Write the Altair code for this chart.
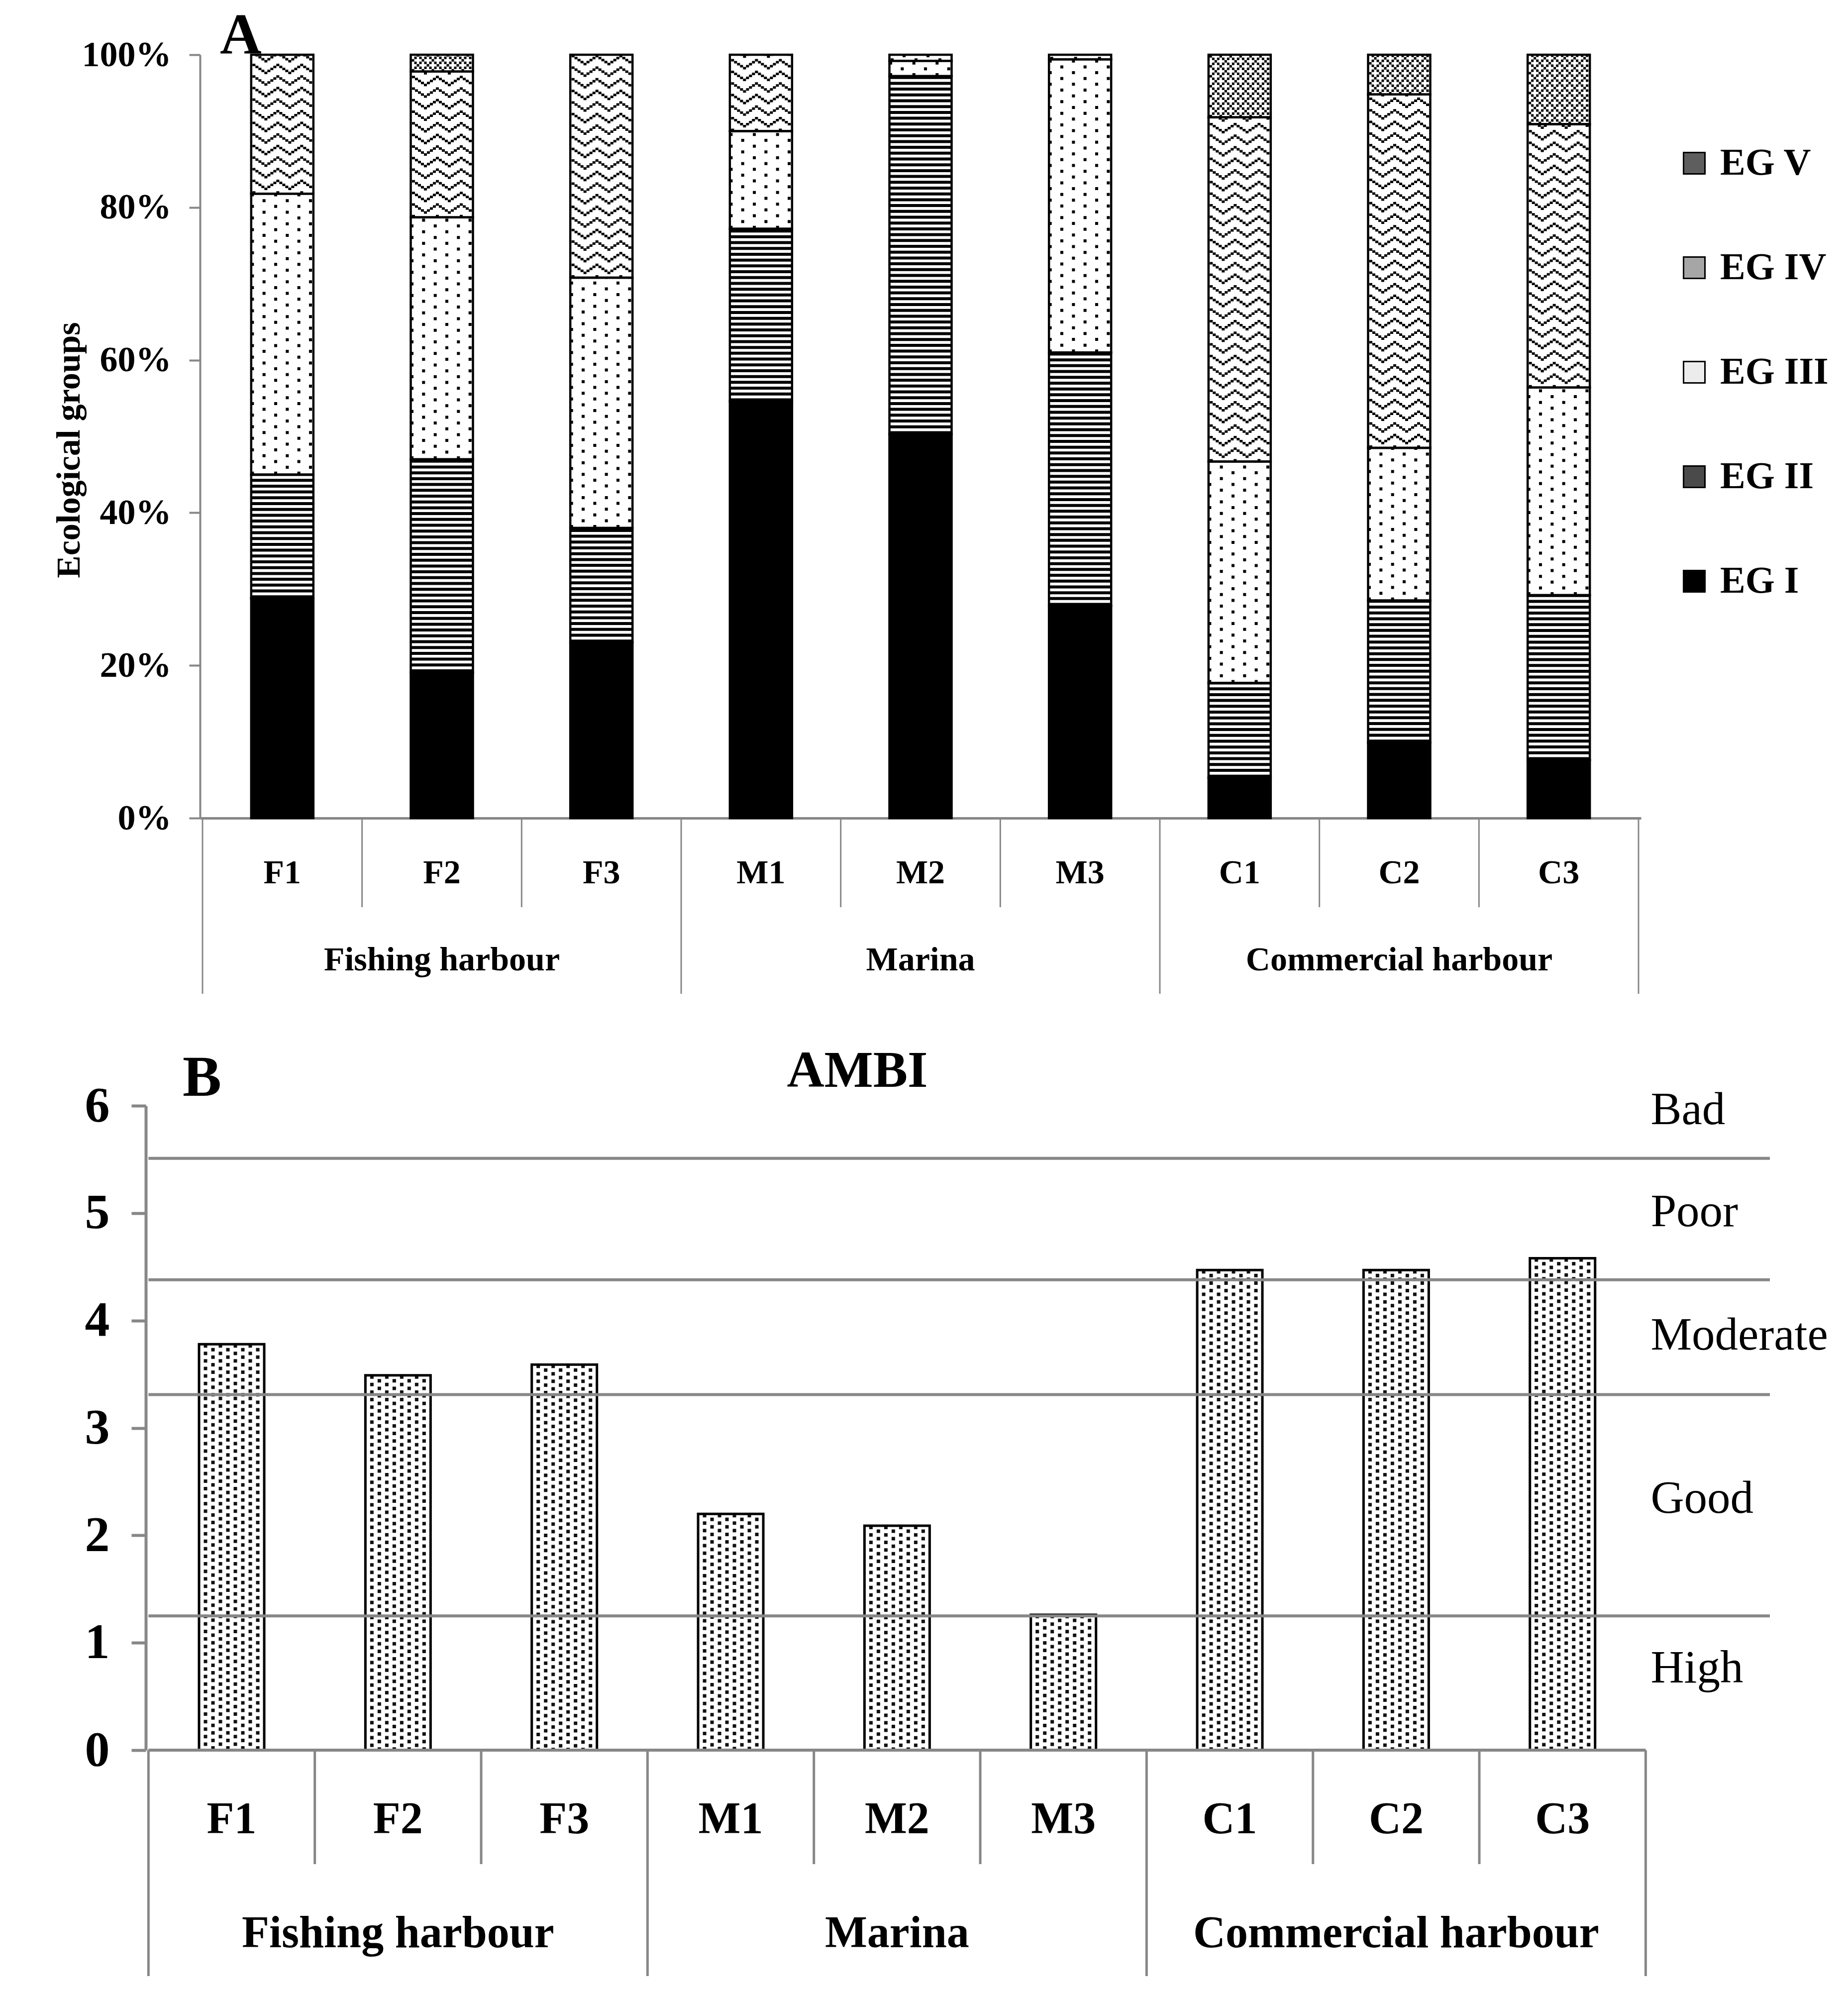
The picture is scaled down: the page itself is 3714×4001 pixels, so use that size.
import altair as alt
import pandas as pd

# ---------------- data ----------------
sites = ["F1", "F2", "F3", "M1", "M2", "M3", "C1", "C2", "C3"]
groups = ["Fishing harbour", "Marina", "Commercial harbour"]
sites_per_group = [3, 3, 3]
eg_labels = ["EG I", "EG II", "EG III", "EG IV", "EG V"]
eg_i = [28.8, 19.1, 23.0, 54.6, 50.3, 27.8, 5.3, 9.9, 7.6]
eg_ii = [16.2, 27.9, 15.0, 22.6, 46.9, 33.2, 12.4, 18.6, 21.6]
eg_iii = [36.8, 31.7, 32.8, 12.8, 2.0, 38.4, 29.0, 20.0, 27.2]
eg_iv = [18.2, 19.1, 29.2, 10.0, 0.8, 0.6, 45.1, 46.3, 34.5]
eg_v = [0.0, 2.2, 0.0, 0.0, 0.0, 0.0, 8.2, 5.2, 9.1]
ambi = [3.78, 3.49, 3.59, 2.20, 2.09, 1.26, 4.47, 4.47, 4.58]
ambi_limits = [1.25, 3.31, 4.38, 5.51]
status = ["High", "Good", "Moderate", "Poor", "Bad"]
status_y = [0.63, 2.21, 3.73, 4.88, 5.83]

# ---------------- style / layout ----------------
FONT = "Liberation Serif"
GRAY = "#878787"
N = len(sites)
WA, HA = 2896, 1534
WB, HB = 3160, 1295
B_SHIFT = 109                      # panel B category axis starts left of panel A's
B_UNIT = 335.4                     # px per site in panel B
XB_MIN = B_SHIFT / B_UNIT
XB_MAX = XB_MIN + WB / B_UNIT
BW_A = 125
BW_B = 131

# ---------------- tables ----------------
rows = []
for i, s in enumerate(sites):
    base = 0.0
    for eg, vals in zip(eg_labels, [eg_i, eg_ii, eg_iii, eg_iv, eg_v]):
        v = vals[i]
        rows.append(dict(site=s, pos=i + 0.5, eg=eg, value=v, y0=base, y1=base + v))
        base += v
dfa = pd.DataFrame(rows)
dfa = dfa[dfa.value > 0].reset_index(drop=True)

bounds = [0]
for n in sites_per_group:
    bounds.append(bounds[-1] + n)
site_div = pd.DataFrame({"pos": [float(p) for p in range(N + 1) if p not in bounds]})
group_div = pd.DataFrame({"pos": [float(p) for p in bounds]})
site_lab = pd.DataFrame({"pos": [i + 0.5 for i in range(N)], "t": sites})
group_lab = pd.DataFrame({"pos": [(bounds[k] + bounds[k + 1]) / 2 for k in range(len(groups))],
                          "t": groups})

dfb = pd.DataFrame({"site": sites, "pos": [i + 0.5 for i in range(N)], "v": ambi, "z": [0.0] * N})
dflim = pd.DataFrame({"v": ambi_limits, "pos": [0.0] * len(ambi_limits),
                      "pos2": [XB_MAX] * len(ambi_limits)})
dfstat = pd.DataFrame({"v": status_y, "t": status, "pos": [float(N)] * len(status)})
dfbase = pd.DataFrame({"v": [0.0], "pos": [0.0], "pos2": [float(N)]})

# ---------------- panel A ----------------
xA = alt.X("pos:Q", scale=alt.Scale(domain=[0, N], nice=False, zero=False),
           axis=alt.Axis(labels=False, ticks=False, title=None, domainColor=GRAY,
                         domainWidth=5, grid=False))
yA_axis = alt.Axis(values=[0, 20, 40, 60, 80, 100], labelExpr="datum.value + '%'",
                   grid=False, domainColor=GRAY, domainWidth=4, tickColor=GRAY,
                   tickWidth=4, tickSize=22, labelFont=FONT, labelFontSize=72,
                   labelFontWeight="bold", labelColor="black", labelPadding=36,
                   labelLimit=500,
                   title="Ecological groups", titleFont=FONT, titleFontSize=68,
                   titleFontWeight="bold", titleColor="black", titleAngle=270,
                   titleBaseline="bottom", titleX=-229, titleY=794)
yA = alt.Y("y0:Q", scale=alt.Scale(domain=[0, 100], nice=False), axis=yA_axis)


def seg(eg):
    return alt.Chart(dfa[dfa.eg == eg].reset_index(drop=True))


layersA = []
layersA.append(alt.Chart(dfa).mark_bar(width=BW_A, strokeWidth=0).encode(
    x=xA, y=yA, y2="y1:Q",
    fill=alt.condition(alt.datum.eg == "EG I", alt.value("black"), alt.value("white"))))
# EG II: horizontal stripes
layersA.append(seg("EG II").mark_rule(strokeWidth=BW_A - 2, strokeDash=[6, 5.7],
                                      color="black").encode(x=xA, y=yA, y2="y1:Q"))
# EG III: sparse staggered dots
for k, off in enumerate([-60, -36.7, -13.3, 10, 33.3, 56.7]):
    layersA.append(seg("EG III").mark_rule(strokeWidth=6, strokeDash=[6, 17.3],
                                           strokeDashOffset=11.7 * (k % 2), xOffset=off,
                                           color="black").encode(x=xA, y=yA, y2="y1:Q"))
# EG IV: zigzag waves
zz = [0, 4, 8, 12, 16, 12, 8, 4]
for k, off in enumerate(range(-57, 58, 6)):
    layersA.append(seg("EG IV").mark_rule(strokeWidth=6, strokeDash=[5, 18.3],
                                          strokeDashOffset=zz[k % 8], xOffset=off,
                                          color="black").encode(x=xA, y=yA, y2="y1:Q"))
# EG V: lattice
for k, off in enumerate(range(-58, 59, 5)):
    p = k % 4
    if p == 0:
        dash, doff = [5, 15], 0
    elif p == 2:
        dash, doff = [5, 15], 10
    else:
        dash, doff = [5, 5], 5
    layersA.append(seg("EG V").mark_rule(strokeWidth=5, strokeDash=dash, strokeDashOffset=doff,
                                         xOffset=off, color="black").encode(x=xA, y=yA, y2="y1:Q"))
# outlines
layersA.append(alt.Chart(dfa).mark_bar(width=BW_A, fillOpacity=0, stroke="black",
                                       strokeWidth=4.5).encode(x=xA, y=yA, y2="y1:Q"))
# legend (dummy layer)
layersA.append(alt.Chart(dfa).mark_square(opacity=0).encode(
    x=xA, y=yA,
    fill=alt.Fill("eg:N",
                  scale=alt.Scale(domain=eg_labels[::-1],
                                  range=["#5e5e5e", "#a6a6a6", "#ececec", "#4a4a4a", "#000000"]),
                  legend=alt.Legend(orient="none", legendX=2965, legendY=180, title=None,
                                    symbolType="square", symbolSize=1849, symbolStrokeColor="black",
                                    symbolStrokeWidth=3, symbolOpacity=1, labelFont=FONT,
                                    labelFontSize=76, labelFontWeight="bold", labelColor="black",
                                    rowPadding=134, labelOffset=14, labelLimit=600, padding=0))))
# category table
layersA.append(alt.Chart(site_div).mark_rule(color=GRAY, strokeWidth=3).encode(
    x=xA, y=alt.value(HA), y2=alt.value(HA + 179)))
layersA.append(alt.Chart(group_div).mark_rule(color=GRAY, strokeWidth=3).encode(
    x=xA, y=alt.value(HA), y2=alt.value(HA + 353)))
layersA.append(alt.Chart(site_lab).mark_text(font=FONT, fontSize=68, fontWeight="bold",
                                             baseline="alphabetic", color="black").encode(
    x=xA, y=alt.value(HA + 131), text="t:N"))
layersA.append(alt.Chart(group_lab).mark_text(font=FONT, fontSize=68, fontWeight="bold",
                                              baseline="alphabetic", color="black").encode(
    x=xA, y=alt.value(HA + 306), text="t:N"))
layersA.append(alt.Chart(pd.DataFrame({"t": ["A"]})).mark_text(
    font=FONT, fontSize=116, fontWeight="bold", align="left", baseline="alphabetic",
    color="black").encode(x=alt.value(40), y=alt.value(-3), text="t:N"))

panelA = alt.layer(*layersA).properties(width=WA, height=HA)

# ---------------- panel B ----------------
xB = alt.X("pos:Q", scale=alt.Scale(domain=[XB_MIN, XB_MAX], nice=False, zero=False), axis=None)
yB_axis = alt.Axis(values=[0, 1, 2, 3, 4, 5, 6], grid=False, domainColor=GRAY, domainWidth=6,
                   tickColor=GRAY, tickWidth=6, tickSize=29, labelFont=FONT, labelFontSize=100,
                   labelFontWeight="bold", labelColor="black", labelPadding=44,
                   offset=B_SHIFT, title=None)
yB = alt.Y("v:Q", scale=alt.Scale(domain=[0, 6], nice=False), axis=yB_axis)

layersB = []
layersB.append(alt.Chart(dfb).mark_bar(width=BW_B, fill="white", strokeWidth=0).encode(
    x=xB, y=yB, y2="z:Q"))
for k, off in enumerate([-52.5 + 15 * j for j in range(8)]):
    layersB.append(alt.Chart(dfb).mark_rule(strokeWidth=7, strokeDash=[7, 8.1],
                                            strokeDashOffset=7.5 * (k % 2), xOffset=off,
                                            color="#111111").encode(x=xB, y=yB, y2="z:Q"))
layersB.append(alt.Chart(dfb).mark_bar(width=BW_B, fillOpacity=0, stroke="black",
                                       strokeWidth=5).encode(x=xB, y=yB, y2="z:Q"))
layersB.append(alt.Chart(dflim).mark_rule(color=GRAY, strokeWidth=6).encode(
    x=xB, x2="pos2:Q", y=yB))
layersB.append(alt.Chart(dfstat).mark_text(font=FONT, fontSize=93, align="left",
                                           baseline="alphabetic", color="black", dx=10).encode(
    x=xB, y=yB, text="t:N"))
layersB.append(alt.Chart(dfbase).mark_rule(color=GRAY, strokeWidth=6).encode(
    x=xB, x2="pos2:Q", y=yB))
layersB.append(alt.Chart(site_div).mark_rule(color=GRAY, strokeWidth=5).encode(
    x=xB, y=alt.value(HB), y2=alt.value(HB + 229)))
layersB.append(alt.Chart(group_div).mark_rule(color=GRAY, strokeWidth=5).encode(
    x=xB, y=alt.value(HB), y2=alt.value(HB + 454)))
layersB.append(alt.Chart(site_lab).mark_text(font=FONT, fontSize=90, fontWeight="bold",
                                             baseline="alphabetic", color="black").encode(
    x=xB, y=alt.value(HB + 167), text="t:N"))
layersB.append(alt.Chart(group_lab).mark_text(font=FONT, fontSize=90, fontWeight="bold",
                                              baseline="alphabetic", color="black").encode(
    x=xB, y=alt.value(HB + 396), text="t:N"))
layersB.append(alt.Chart(pd.DataFrame({"t": ["B"]})).mark_text(
    font=FONT, fontSize=117, fontWeight="bold", align="left", baseline="alphabetic",
    color="black").encode(x=alt.value(-35), y=alt.value(-20), text="t:N"))
layersB.append(alt.Chart(pd.DataFrame({"t": ["AMBI"]})).mark_text(
    font=FONT, fontSize=104, fontWeight="bold", align="center", baseline="alphabetic",
    color="black").encode(x=alt.value(1321), y=alt.value(-38), text="t:N"))

panelB = alt.layer(*layersB).properties(width=WB, height=HB)

chart = alt.vconcat(panelA, panelB, spacing=102).properties(
    padding={"left": 97, "top": 6, "right": 0, "bottom": 0}, background="white"
).configure_view(strokeWidth=0)

chart.save("out.html", embed_options={"renderer": "svg", "actions": False})
